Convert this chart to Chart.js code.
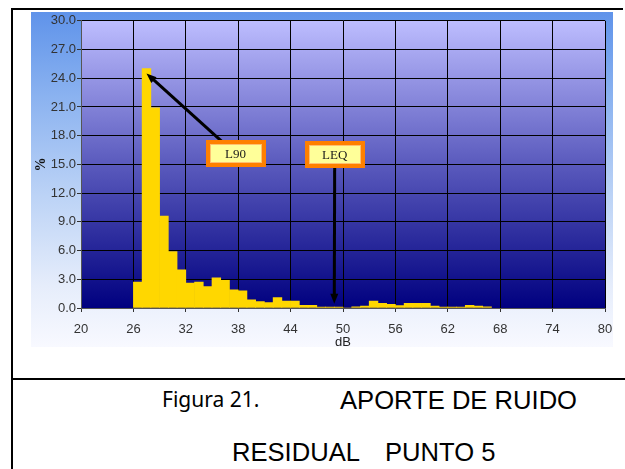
<!DOCTYPE html>
<html>
<head>
<meta charset="utf-8">
<script src="https://cdn.jsdelivr.net/npm/chart.js@4/dist/chart.umd.min.js"></script>
<style>
  html, body { margin: 0; padding: 0; background: #fff; }
  body { width: 625px; height: 469px; position: relative; overflow: hidden; }
  .rule { position: absolute; background: #000; }
  #panel {
    position: absolute; left: 31px; top: 12px; width: 582px; height: 335px;
    background: linear-gradient(to bottom, #5f93ea 0%, #8ab2f0 25%, #bcd3f6 55%, #e6edfb 82%, #f8f9ff 100%);
  }
  #chart { position: absolute; left: 31px; top: 12px; }
  .cap { position: absolute; white-space: pre; color: #000; line-height: 1; }
  .arial { font-family: "Liberation Sans", Arial, sans-serif; font-size: 25.6px; }
  .comic { font-family: "Noto Sans", sans-serif; font-size: 21px; }
</style>
</head>
<body>
<div class="rule" style="left:11px; top:8px; width:612px; height:2px;"></div>
<div class="rule" style="left:11px; top:8px; width:2px; height:461px;"></div>
<div class="rule" style="left:11px; top:378px; width:614px; height:2px;"></div>

<div id="panel"></div>
<canvas id="chart" width="582" height="340"></canvas>

<div class="cap comic" style="left:162px; top:389px;">Figura 21.</div>
<div class="cap arial" style="left:340px; top:388px;">APORTE DE RUIDO</div>
<div class="cap arial" style="left:232px; top:440px;">RESIDUAL</div>
<div class="cap arial" style="left:385px; top:440px;">PUNTO 5</div>

<script>
/* ---------------- DATA ---------------- */

// lower edge of each 1 dB class
const dbBins = [26, 27, 28, 29, 30, 31, 32, 33, 34, 35, 36, 37, 38, 39, 40,
  41, 42, 43, 44, 45, 46, 47, 48, 49, 50, 51, 52, 53, 54, 55, 56, 57, 58,
  59, 60, 61, 62, 63, 64, 65, 66];

// % of time in each class
const percent = [2.7, 25.0, 20.9, 9.6, 5.9, 4.0, 2.6, 2.7, 2.25, 3.15, 2.9,
  1.9, 1.8, 0.85, 0.66, 0.56, 1.1, 0.73, 0.73, 0.28, 0.28, 0.1, 0.1, 0.1, 0,
  0.12, 0.2, 0.73, 0.5, 0.38, 0.26, 0.49, 0.49, 0.49, 0.2, 0.1, 0.1, 0.1,
  0.28, 0.2, 0.12];

const dbTicks = [20, 26, 32, 38, 44, 50, 56, 62, 68, 74, 80];
const pctTicks = [0, 3, 6, 9, 12, 15, 18, 21, 24, 27, 30];

// callouts: box centre and arrow tip in (dB, %)
const noteLabels = ["L90", "LEQ"];
const noteBox = [[37.7, 16.1], [49.05, 16.0]];
const noteTip = [[27.5, 24.5], [49.0, 0.45]];

/* ---------------- PLUGINS ---------------- */

const plotBackground = {
  id: "plotBackground",
  beforeDraw(chart) {
    const { ctx, chartArea: a } = chart;
    const g = ctx.createLinearGradient(0, a.top, 0, a.bottom);
    g.addColorStop(0, "#bdbdff");
    g.addColorStop(0.5, "#5a5abd");
    g.addColorStop(1, "#00007f");
    ctx.save();
    ctx.fillStyle = g;
    ctx.fillRect(a.left, a.top, a.right - a.left, a.bottom - a.top);
    ctx.restore();
  },
};

const callouts = {
  id: "callouts",
  afterDatasetsDraw(chart) {
    const { ctx, scales: { x, y } } = chart;
    ctx.save();
    noteLabels.forEach((label, i) => {
      const bx = x.getPixelForValue(noteBox[i][0]);
      const by = y.getPixelForValue(noteBox[i][1]);
      const tx = x.getPixelForValue(noteTip[i][0]);
      const ty = y.getPixelForValue(noteTip[i][1]);
      const a = Math.atan2(ty - by, tx - bx);
      const c = Math.cos(a), s = Math.sin(a);

      ctx.strokeStyle = "#000";
      ctx.lineWidth = 3;
      ctx.beginPath();
      ctx.moveTo(bx, by);
      ctx.lineTo(tx - 6 * c, ty - 6 * s);
      ctx.stroke();

      ctx.fillStyle = "#000";
      ctx.beginPath();
      ctx.moveTo(tx, ty);
      ctx.lineTo(tx - 10 * c + 4 * s, ty - 10 * s - 4 * c);
      ctx.lineTo(tx - 10 * c - 4 * s, ty - 10 * s + 4 * c);
      ctx.closePath();
      ctx.fill();

      const w = 60, h = 27;
      const l = Math.round(bx - w / 2), t = Math.round(by - h / 2);
      ctx.fillStyle = "#ff8000";
      ctx.fillRect(l, t, w, h);
      ctx.fillStyle = "#ffc070";
      ctx.fillRect(l + 4, t + 4, w - 8, h - 8);
      ctx.fillStyle = "#ffff99";
      ctx.fillRect(l + 5, t + 5, w - 10, h - 10);

      ctx.fillStyle = "#1a1a1a";
      ctx.font = '13px "Liberation Serif"';
      ctx.textAlign = "center";
      ctx.textBaseline = "middle";
      ctx.fillText(label, bx, t + h / 2 + 1);
    });
    ctx.restore();
  },
};

/* ---------------- CHART ---------------- */

const tickFont = { family: "Liberation Sans", size: 13 };

new Chart(document.getElementById("chart"), {
  type: "bar",
  data: {
    datasets: [
      {
        data: dbBins.map((b, i) => ({ x: b + 0.5, y: percent[i] })),
        backgroundColor: "#ffd700",
        borderWidth: 0,
        barPercentage: 1,
        categoryPercentage: 1,
      },
    ],
  },
  options: {
    responsive: false,
    animation: false,
    layout: { padding: { left: 0, right: 0, top: 8, bottom: 0 } },
    plugins: { legend: { display: false }, tooltip: { enabled: false } },
    scales: {
      x: {
        type: "linear",
        min: 20,
        max: 80,
        offset: false,
        afterBuildTicks: (s) => { s.ticks = dbTicks.map((v) => ({ value: v })); },
        afterFit: (s) => {
          s.height = 44;
          s.paddingLeft = 0;
          s.paddingRight = 8;
        },
        grid: { color: "#000", offset: false, tickLength: 4, tickColor: "#333" },
        border: { color: "#555" },
        ticks: { color: "#333", font: tickFont, padding: 10, maxRotation: 0 },
        title: {
          display: true, text: "dB", color: "#222", font: tickFont,
          padding: { top: 0, bottom: 2 },
        },
      },
      y: {
        min: 0,
        max: 30,
        afterBuildTicks: (s) => { s.ticks = pctTicks.map((v) => ({ value: v })); },
        afterFit: (s) => { s.width = 50; },
        grid: { color: "#000", tickLength: 4, tickColor: "#333" },
        border: { color: "#555" },
        ticks: { color: "#333", font: tickFont, padding: 1, callback: (v) => v.toFixed(1) },
        title: {
          display: true, text: "%", color: "#111",
          font: { family: "Liberation Serif", size: 14, weight: "bold" },
          padding: { top: 2, bottom: 0 },
        },
      },
    },
  },
  plugins: [plotBackground, callouts],
});
</script>
</body>
</html>
